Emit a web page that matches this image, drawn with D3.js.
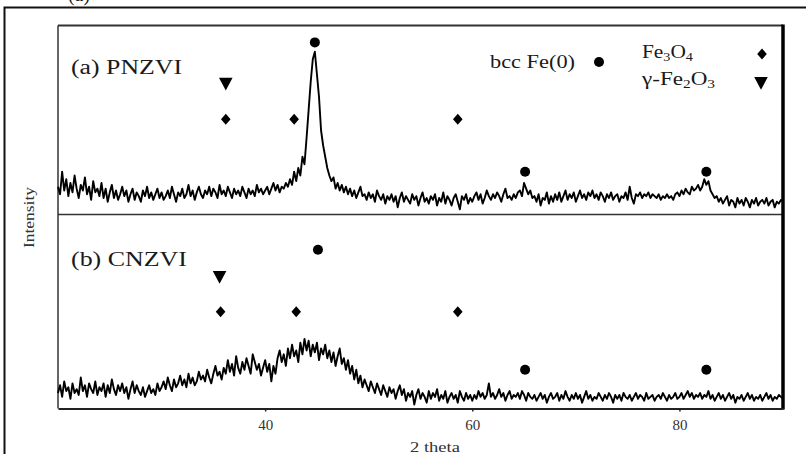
<!DOCTYPE html>
<html>
<head>
<meta charset="utf-8">
<script src="https://cdn.jsdelivr.net/npm/d3@7"></script>
<style>
  body { margin: 0; background: #fff; }
  svg { display: block; }
</style>
</head>
<body>
<div id="chart"></div>
<script>
// XRD patterns, 2 theta from 20 to 90 in steps of 0.2 (relative intensity)
const thetaStart = 20, thetaStep = 0.2;

const pnzvi = [
  14, 10, 22, 12, 18, 9, 16, 11, 20, 13,
  8, 15, 12, 19, 10, 14, 7, 17, 11, 13,
  9, 16, 8, 13, 6, 11, 15, 8, 12, 7,
  10, 14, 9, 12, 6, 10, 13, 7, 11, 9,
  6, 12, 9, 14, 8, 11, 7, 10, 13, 8,
  11, 7, 9, 12, 8, 14, 10, 6, 11, 9,
  13, 8, 10, 15, 9, 12, 7, 11, 14, 10,
  8, 12, 10, 14, 9, 13, 11, 8, 15, 10,
  12, 9, 14, 11, 8, 13, 10, 12, 9, 14,
  11, 8, 13, 10, 12, 9, 15, 11, 13, 10,
  12, 14, 10, 13, 16, 12, 15, 11, 14, 13,
  16, 14, 18, 15, 22, 17, 24, 20, 30, 26,
  40, 55, 70, 82, 86, 74, 62, 44, 36, 30,
  24, 20, 17, 19, 13, 16, 12, 15, 11, 14,
  10, 13, 9, 12, 8, 11, 14, 9, 10, 7,
  11, 8, 10, 6, 12, 9, 7, 10, 5, 9,
  7, 10, 6, 9, 3, 8, 11, 6, 9, 7,
  5, 10, 7, 9, 4, 8, 11, 6, 8, 5,
  9, 7, 10, 4, 8, 6, 11, 5, 9, 7,
  4, 8, 10, 6, 2, 9, 7, 10, 5, 8,
  6, 9, 11, 7, 10, 5, 8, 12, 9, 7,
  10, 8, 11, 9, 6, 10, 13, 8, 9, 7,
  10, 8, 11, 12, 9, 16, 13, 10, 12, 8,
  9, 6, 10, 4, 8, 7, 11, 5, 9, 6,
  10, 7, 11, 6, 9, 12, 7, 10, 8, 11,
  6, 9, 12, 8, 10, 7, 11, 9, 12, 8,
  10, 7, 11, 9, 6, 10, 8, 11, 7, 9,
  10, 6, 9, 8, 11, 7, 14, 8, 5, 10,
  9, 11, 8, 10, 9, 11, 8, 10, 9, 8,
  10, 7, 9, 8, 10, 8, 9, 7, 10, 11,
  9, 12, 10, 13, 11, 10, 14, 12, 13, 15,
  12, 14, 18, 15, 17, 12, 10, 8, 9, 6,
  8, 5, 7, 9, 4, 7, 6, 3, 8, 5,
  7, 4, 8, 6, 3, 7, 5, 8, 4, 6,
  7, 5, 8, 4, 6, 7, 3, 6, 5, 7,
  6
];

const cnzvi = [
  8, 12, 6, 14, 9, 11, 5, 13, 8, 10,
  7, 16, 9, 12, 6, 13, 10, 8, 14, 7,
  11, 9, 13, 6, 12, 8, 15, 10, 7, 12,
  9, 13, 8, 11, 5, 10, 14, 8, 12, 9,
  7, 11, 6, 9, 12, 8, 10, 7, 13, 9,
  11, 14, 10, 16, 12, 9, 15, 11, 13, 17,
  12, 15, 11, 18, 13, 16, 12, 14, 19, 15,
  17, 14, 20, 16, 13, 18, 22, 17, 19, 15,
  21, 18, 25, 19, 23, 17, 27, 21, 18, 24,
  20, 26, 22, 18, 28, 24, 20, 23, 17, 21,
  25, 19, 23, 14, 22, 18, 26, 30, 24, 28,
  22, 31, 26, 33, 27, 30, 24, 34, 28, 36,
  30, 35, 27, 33, 29, 34, 25, 31, 28, 33,
  26, 30, 24, 29, 22, 27, 31, 23, 26, 20,
  25, 18, 22, 15, 20, 13, 17, 11, 15, 12,
  9, 14, 11, 8, 13, 10, 7, 12, 9, 6,
  11, 8, 10, 5, 9, 12, 7, 10, 4, 8,
  6, 9, 2, 7, 10, 5, 8, 6, 3, 9,
  5, 8, 6, 10, 4, 7, 5, 9, 3, 6,
  8, 5, 7, 3, 9, 6, 4, 8, 5, 7,
  4, 7, 5, 9, 6, 8, 5, 7, 13, 6,
  8, 5, 7, 10, 6, 8, 4, 7, 9, 5,
  7, 6, 8, 5, 9, 7, 4, 8, 6, 5,
  7, 4, 6, 8, 5, 7, 3, 6, 8, 5,
  6, 8, 4, 7, 5, 9, 6, 4, 7, 5,
  8, 5, 7, 3, 6, 9, 5, 7, 4, 6,
  5, 8, 6, 4, 7, 5, 8, 6, 3, 7,
  5, 7, 4, 8, 6, 5, 7, 4, 6, 8,
  5, 7, 6, 4, 8, 5, 6, 7, 4, 6,
  7, 5, 8, 6, 4, 7, 5, 6, 8, 5,
  6, 8, 5, 7, 9, 6, 8, 5, 7, 6,
  8, 5, 7, 6, 9, 5, 7, 4, 6, 8,
  5, 7, 4, 6, 8, 5, 7, 3, 6, 5,
  7, 4, 6, 8, 5, 7, 4, 6, 5, 7,
  4, 6, 8, 5, 7, 4, 6, 5, 7, 6,
  5
];

// phase markers: 2 theta position and the height they are drawn at
const pnzviMarkers = [
  { phase: "fe0", theta: 44.8, level: 91 },
  { phase: "fe0", theta: 65.1, level: 22 },
  { phase: "fe0", theta: 82.6, level: 22 },
  { phase: "fe3o4", theta: 36.2, level: 50 },
  { phase: "fe3o4", theta: 42.8, level: 50 },
  { phase: "fe3o4", theta: 58.6, level: 50 },
  { phase: "fe2o3", theta: 36.2, level: 69 }
];
const cnzviMarkers = [
  { phase: "fe0", theta: 45.1, level: 82 },
  { phase: "fe0", theta: 65.1, level: 20 },
  { phase: "fe0", theta: 82.6, level: 20 },
  { phase: "fe3o4", theta: 35.7, level: 50 },
  { phase: "fe3o4", theta: 43.0, level: 50 },
  { phase: "fe3o4", theta: 58.6, level: 50 },
  { phase: "fe2o3", theta: 35.6, level: 68 }
];

const xTicks = [40, 60, 80];

const width = 806, height = 454;
const plot = { left: 58, right: 783, top: 25.5, mid: 214.5, bottom: 408.5 };
const serif = "'Liberation Serif', 'Times New Roman', serif";
const ink = "#1a1a1a";

const svg = d3.select("#chart").append("svg")
  .attr("width", width).attr("height", height)
  .attr("viewBox", [0, 0, width, height]);

const x = d3.scaleLinear().domain([20, 90]).range([plot.left, plot.right]);
const yA = d3.scaleLinear().domain([0, 100]).range([plot.mid - 1.5, plot.top]);
const yB = d3.scaleLinear().domain([0, 100]).range([plot.bottom, plot.mid + 0.5]);

// outer figure border, runs off the page
svg.append("rect")
  .attr("x", 4.5).attr("y", 7.5).attr("width", 900).attr("height", 500)
  .attr("fill", "none").attr("stroke", "#111").attr("stroke-width", 2);

// caption of the figure above, cut by the top edge as in the source
svg.append("text")
  .attr("x", 68).attr("y", 1)
  .attr("font-family", serif).attr("font-size", 20).attr("fill", ink)
  .attr("textLength", 22).attr("lengthAdjust", "spacingAndGlyphs")
  .text("(a)");

// plot frame
svg.append("line").attr("x1", plot.left).attr("x2", plot.right).attr("y1", plot.top).attr("y2", plot.top)
  .attr("stroke", "#333").attr("stroke-width", 2);
svg.append("line").attr("x1", plot.left).attr("x2", plot.left).attr("y1", plot.top).attr("y2", plot.bottom)
  .attr("stroke", "#333").attr("stroke-width", 1.5);
svg.append("line").attr("x1", plot.left).attr("x2", plot.right).attr("y1", plot.mid).attr("y2", plot.mid)
  .attr("stroke", "#333").attr("stroke-width", 1.5);
svg.append("line").attr("x1", plot.right).attr("x2", plot.right).attr("y1", plot.top - 1).attr("y2", plot.bottom + 1)
  .attr("stroke", "#000").attr("stroke-width", 3.5);

// x axis
const gx = svg.append("g")
  .attr("transform", `translate(0,${plot.bottom})`)
  .call(d3.axisBottom(x).tickValues(xTicks).tickSize(3).tickPadding(8).tickSizeOuter(0));
gx.select(".domain").attr("stroke", "#222").attr("stroke-width", 1.8);
gx.selectAll(".tick line").attr("stroke", "#222").attr("stroke-width", 1.5);
gx.selectAll(".tick text")
  .attr("font-family", serif).attr("font-size", 15).attr("fill", "#333");

svg.append("text")
  .attr("x", 410).attr("y", 452)
  .attr("font-family", serif).attr("font-size", 15).attr("fill", "#333")
  .attr("textLength", 50).attr("lengthAdjust", "spacingAndGlyphs")
  .text("2 theta");

svg.append("text")
  .attr("transform", "translate(34,248) rotate(-90)")
  .attr("font-family", serif).attr("font-size", 15).attr("fill", "#333")
  .attr("textLength", 61).attr("lengthAdjust", "spacingAndGlyphs")
  .text("Intensity");

// patterns
function drawPattern(values, y) {
  const line = d3.line()
    .x((d, i) => x(thetaStart + i * thetaStep))
    .y((d) => y(d));
  svg.append("path")
    .datum(values)
    .attr("fill", "none")
    .attr("stroke", "#000")
    .attr("stroke-width", 1.9)
    .attr("stroke-linejoin", "round")
    .attr("d", line);
}
drawPattern(pnzvi, yA);
drawPattern(cnzvi, yB);

// marker shapes
const diamondPath = "M0,-5.6L4.8,0L0,5.6L-4.8,0Z";
const trianglePath = "M-6.8,-6L6.8,-6L0,6.8Z";

function drawSymbol(g, phase, cx, cy) {
  if (phase === "fe0") {
    g.append("circle").attr("cx", cx).attr("cy", cy).attr("r", 5).attr("fill", "#000");
  } else if (phase === "fe3o4") {
    g.append("path").attr("d", diamondPath).attr("transform", `translate(${cx},${cy})`).attr("fill", "#000");
  } else {
    g.append("path").attr("d", trianglePath).attr("transform", `translate(${cx},${cy})`).attr("fill", "#000");
  }
}

function drawMarkers(markers, y) {
  const g = svg.append("g");
  markers.forEach((m) => drawSymbol(g, m.phase, x(m.theta), y(m.level)));
}
drawMarkers(pnzviMarkers, yA);
drawMarkers(cnzviMarkers, yB);

// panel labels
svg.append("text")
  .attr("x", 71).attr("y", 74)
  .attr("font-family", serif).attr("font-size", 20).attr("fill", ink)
  .attr("textLength", 111).attr("lengthAdjust", "spacingAndGlyphs")
  .text("(a) PNZVI");
svg.append("text")
  .attr("x", 71).attr("y", 266)
  .attr("font-family", serif).attr("font-size", 20).attr("fill", ink)
  .attr("textLength", 116).attr("lengthAdjust", "spacingAndGlyphs")
  .text("(b) CNZVI");

// legend
const legend = svg.append("g")
  .attr("font-family", serif).attr("font-size", 18).attr("fill", ink);

legend.append("text")
  .attr("x", 490).attr("y", 68)
  .attr("textLength", 85).attr("lengthAdjust", "spacingAndGlyphs")
  .text("bcc Fe(0)");
drawSymbol(legend, "fe0", 599, 62);

const fe3o4 = legend.append("text")
  .attr("x", 642).attr("y", 58)
  .attr("textLength", 51).attr("lengthAdjust", "spacingAndGlyphs");
fe3o4.append("tspan").text("Fe");
fe3o4.append("tspan").attr("font-size", 12).attr("dy", 3).text("3");
fe3o4.append("tspan").attr("dy", -3).text("O");
fe3o4.append("tspan").attr("font-size", 12).attr("dy", 3).text("4");
drawSymbol(legend, "fe3o4", 762, 54);

const fe2o3 = legend.append("text")
  .attr("x", 642).attr("y", 85)
  .attr("textLength", 73).attr("lengthAdjust", "spacingAndGlyphs");
fe2o3.append("tspan").text("γ-Fe");
fe2o3.append("tspan").attr("font-size", 12).attr("dy", 3).text("2");
fe2o3.append("tspan").attr("dy", -3).text("O");
fe2o3.append("tspan").attr("font-size", 12).attr("dy", 3).text("3");
drawSymbol(legend, "fe2o3", 761, 83);
</script>
</body>
</html>
